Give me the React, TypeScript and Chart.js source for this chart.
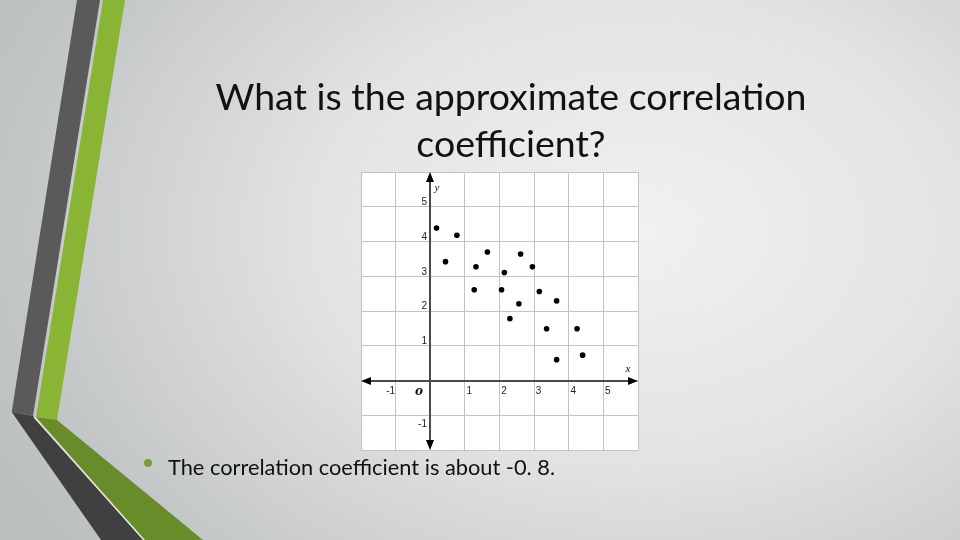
import React, { useEffect, useRef } from "react";
import { Chart, registerables } from "chart.js";

Chart.register(...registerables);

const pointX = [0.18, 0.77, 0.44, 1.32, 1.65, 1.27, 2.14, 2.06, 2.61, 2.95, 2.56, 2.3, 3.15, 3.65, 3.36, 4.24, 3.65, 4.4];
const pointY = [4.39, 4.18, 3.42, 3.27, 3.7, 2.61, 3.11, 2.61, 3.64, 3.27, 2.21, 1.78, 2.56, 2.29, 1.49, 1.49, 0.6, 0.73];
const xTickValues = [-1, 1, 2, 3, 4, 5];
const xTickLabels = ["-1", "1", "2", "3", "4", "5"];
const yTickValues = [5, 4, 3, 2, 1, -1];
const yTickLabels = ["5", "4", "3", "2", "1", "-1"];
const axisMin = -2;
const axisMax = 6;

const TITLE_LINES = ["What is the approximate correlation", "coefficient?"];
const BULLET = "The correlation coefficient is about -0. 8.";

const gridPlugin = {
  id: "mathGrid",
  beforeDraw(chart: any) {
    const { ctx, chartArea } = chart;
    ctx.save();
    ctx.fillStyle = "#ffffff";
    ctx.fillRect(chartArea.left, chartArea.top, chartArea.right - chartArea.left, chartArea.bottom - chartArea.top);
    ctx.restore();
  },
  beforeDatasetsDraw(chart: any) {
    const { ctx, chartArea } = chart;
    const xs = chart.scales.x;
    const ys = chart.scales.y;
    const ox = Math.round(xs.getPixelForValue(0));
    const oy = Math.round(ys.getPixelForValue(0));
    ctx.save();
    ctx.strokeStyle = "#4a4a4a";
    ctx.lineWidth = 2;
    ctx.beginPath();
    ctx.moveTo(chartArea.left + 6, oy);
    ctx.lineTo(chartArea.right - 6, oy);
    ctx.moveTo(ox, chartArea.top + 6);
    ctx.lineTo(ox, chartArea.bottom - 6);
    ctx.stroke();
    ctx.fillStyle = "#000000";
    const L = 10, W = 4;
    ctx.beginPath();
    ctx.moveTo(chartArea.right, oy);
    ctx.lineTo(chartArea.right - L, oy - W);
    ctx.lineTo(chartArea.right - L, oy + W);
    ctx.closePath();
    ctx.fill();
    ctx.beginPath();
    ctx.moveTo(chartArea.left, oy);
    ctx.lineTo(chartArea.left + L, oy - W);
    ctx.lineTo(chartArea.left + L, oy + W);
    ctx.closePath();
    ctx.fill();
    ctx.beginPath();
    ctx.moveTo(ox, chartArea.top);
    ctx.lineTo(ox - W, chartArea.top + L);
    ctx.lineTo(ox + W, chartArea.top + L);
    ctx.closePath();
    ctx.fill();
    ctx.beginPath();
    ctx.moveTo(ox, chartArea.bottom);
    ctx.lineTo(ox - W, chartArea.bottom - L);
    ctx.lineTo(ox + W, chartArea.bottom - L);
    ctx.closePath();
    ctx.fill();

    ctx.fillStyle = "#222222";
    ctx.font = "10px 'Liberation Sans', Arial, sans-serif";
    ctx.textBaseline = "middle";
    xTickValues.forEach((v, i) => {
      const px = xs.getPixelForValue(v);
      ctx.textAlign = "center";
      ctx.fillText(xTickLabels[i], v < 0 ? px - 5 : px + 4.5, oy + 10);
    });
    yTickValues.forEach((v, i) => {
      const py = ys.getPixelForValue(v);
      ctx.textAlign = "right";
      ctx.fillText(yTickLabels[i], ox - 3, v < 0 ? py + 9 : py - 4.5);
    });
    ctx.fillStyle = "#111111";
    ctx.font = "italic bold 12px 'DejaVu Serif', 'Liberation Serif', serif";
    ctx.textAlign = "center";
    ctx.fillText("o", ox - 11, oy + 11);
    ctx.font = "italic 11px 'Liberation Serif', serif";
    ctx.fillText("y", ox + 7, chartArea.top + 16);
    ctx.fillText("x", chartArea.right - 10, oy - 12);
    ctx.restore();
  },
};

function ScatterChart() {
  const ref = useRef<HTMLCanvasElement | null>(null);
  useEffect(() => {
    if (!ref.current) return;
    const chart = new Chart(ref.current, {
      type: "scatter",
      data: {
        datasets: [
          {
            data: pointX.map((x, i) => ({ x, y: pointY[i] })),
            backgroundColor: "#000000",
            borderColor: "#000000",
            pointRadius: 2.8,
            borderWidth: 0,
          },
        ],
      },
      options: {
        animation: false,
        responsive: false,
        devicePixelRatio: 1,
        layout: { padding: 1, autoPadding: false },
        plugins: { legend: { display: false }, tooltip: { enabled: false }, title: { display: false } },
        scales: {
          x: {
            type: "linear",
            min: axisMin,
            max: axisMax,
            ticks: { stepSize: 1, display: false, padding: 0 },
            grid: { color: "#c4c4c4", lineWidth: 1, drawTicks: false },
            border: { display: false },
          },
          y: {
            type: "linear",
            min: axisMin,
            max: axisMax,
            ticks: { stepSize: 1, display: false, padding: 0 },
            grid: { color: "#c4c4c4", lineWidth: 1, drawTicks: false },
            border: { display: false },
          },
        },
      },
      plugins: [gridPlugin],
    } as any);
    return () => chart.destroy();
  }, []);
  return (
    <canvas
      ref={ref}
      width={279}
      height={280}
      style={{ position: "absolute", left: 360, top: 171, width: 279, height: 280 }}
    />
  );
}

export default function App() {
  useEffect(() => {
    document.body.style.margin = "0";
  }, []);
  return (
    <div
      style={{
        position: "fixed",
        left: 0,
        top: 0,
        width: 960,
        height: 540,
        overflow: "hidden",
        background: "radial-gradient(ellipse 720px 520px at 640px 230px, #f1f1f1 0%, #e2e3e3 45%, #c4c7c8 85%, #bcbfc0 100%)",
        fontFamily: "Lato, 'Open Sans', sans-serif",
      }}
    >
      <svg width={960} height={540} style={{ position: "absolute", left: 0, top: 0 }}>
        <polygon points="77,0 100,0 33,416 11.7,412" fill="#5a5a5a" />
        <polygon points="103,0 125,0 57,420 36,417" fill="#8ab534" />
        <polygon points="11.7,412 33,416 143,540 101,540" fill="#404040" />
        <polygon points="36,417 57,420 203,540 145,540" fill="#688c2a" />
        <line x1="34" y1="417" x2="144" y2="540" stroke="#e8ecd8" strokeWidth={1.2} />
      </svg>
      <div
        style={{
          position: "absolute",
          left: 161,
          top: 72,
          width: 700,
          textAlign: "center",
          fontSize: 37.5,
          lineHeight: "47px",
          color: "#111111",
          whiteSpace: "nowrap",
        }}
      >
        {TITLE_LINES.map((l) => (
          <div key={l}>{l}</div>
        ))}
      </div>
      <ScatterChart />
      <div
        style={{
          position: "absolute",
          left: 144,
          top: 459,
          width: 8,
          height: 8,
          borderRadius: 4,
          background: "#76a03a",
        }}
      />
      <div
        style={{
          position: "absolute",
          left: 168,
          top: 453,
          fontSize: 21.8,
          lineHeight: "28px",
          color: "#111111",
          whiteSpace: "nowrap",
        }}
      >
        {BULLET}
      </div>
    </div>
  );
}
